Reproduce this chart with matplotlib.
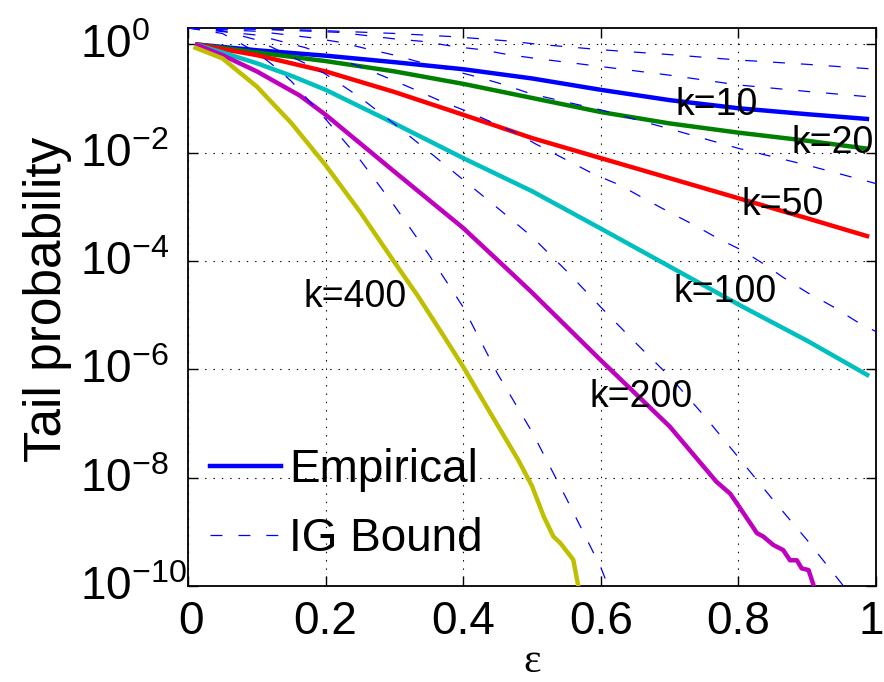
import numpy as np
import matplotlib
matplotlib.use("Agg")
import matplotlib.pyplot as plt
import matplotlib.transforms as mtransforms
from matplotlib.lines import Line2D

plt.rcParams['font.family'] = ['Liberation Sans', 'DejaVu Sans']
plt.rcParams['mathtext.fontset'] = 'custom'
plt.rcParams['mathtext.rm'] = 'Liberation Sans'
plt.rcParams['mathtext.it'] = 'Liberation Sans:italic'
plt.rcParams['mathtext.bf'] = 'Liberation Sans:bold'
plt.rcParams['lines.scale_dashes'] = False

# ---------------- data (log10 of tail probability) ----------------
ks = [10, 20, 50, 100, 200, 400]
colors = ['#0000ff', '#008000', '#ff0000', '#00bfbf', '#bf00bf', '#bfbf00']

# empirical curves
emp10_eps = [0.01, 0.1, 0.2, 0.3, 0.4, 0.5, 0.6, 0.7, 0.8, 0.9, 0.99]
emp10_lg = [0, -0.11, -0.21, -0.33, -0.46, -0.63, -0.84, -1.03, -1.18, -1.29, -1.38]
emp20_eps = [0.01, 0.1, 0.2, 0.3, 0.4, 0.5, 0.6, 0.7, 0.8, 0.9, 0.99]
emp20_lg = [0, -0.15, -0.31, -0.5, -0.73, -0.99, -1.25, -1.46, -1.63, -1.78, -1.93]
emp50_eps = [0.01, 0.1, 0.2, 0.3, 0.4, 0.5, 0.6, 0.7, 0.8, 0.9, 0.99]
emp50_lg = [0, -0.2, -0.5, -0.88, -1.3, -1.73, -2.1, -2.47, -2.84, -3.21, -3.55]
emp100_eps = [0.01, 0.05, 0.1, 0.15, 0.2, 0.3, 0.4, 0.5, 0.6, 0.7, 0.8, 0.9, 0.99]
emp100_lg = [0, -0.15, -0.35, -0.58, -0.84, -1.46, -2.1, -2.71, -3.4, -4.1, -4.8, -5.47, -6.12]
emp200_eps = [0.01, 0.05, 0.1, 0.163, 0.2, 0.3, 0.4, 0.47, 0.5, 0.6, 0.7, 0.768, 0.788,
              0.801, 0.827, 0.836, 0.851, 0.865, 0.875, 0.885, 0.892, 0.902, 0.911]
emp200_lg = [0, -0.2, -0.5, -0.95, -1.3, -2.35, -3.39, -4.22, -4.58, -5.83, -7.05, -8.07, -8.29,
             -8.53, -9.02, -9.08, -9.24, -9.33, -9.52, -9.52, -9.67, -9.70, -10.05]
emp400_eps = [0.008, 0.05, 0.1, 0.15, 0.2, 0.25, 0.3, 0.335, 0.369, 0.4, 0.437, 0.48, 0.5,
              0.517, 0.531, 0.541, 0.56, 0.567, 0.572]
emp400_lg = [-0.05, -0.26, -0.78, -1.45, -2.23, -3.09, -4.02, -4.66, -5.33, -5.95, -6.75, -7.67,
             -8.15, -8.71, -9.08, -9.2, -9.51, -9.98, -10.2]

# IG bounds
ig10_eps = [0, 0.1, 0.18, 0.3, 0.344, 0.386, 0.427, 0.467, 0.505, 0.6, 0.7, 0.8, 0.9, 1.0]
ig10_lg = [0.3, 0.28, 0.26, 0.2, 0.17, 0.14, 0.1, 0.06, 0.005, -0.1, -0.19, -0.29, -0.37, -0.46]
ig20_eps = [0, 0.1, 0.22, 0.3, 0.344, 0.386, 0.427, 0.465, 0.505, 0.6, 0.7, 0.8, 0.9, 1.0]
ig20_lg = [0.3, 0.28, 0.22, 0.1, 0.05, -0.04, -0.1, -0.19, -0.26, -0.41, -0.57, -0.75, -0.87, -0.98]
ig50_eps = [0, 0.1, 0.18, 0.22, 0.262, 0.3, 0.334, 0.42, 0.458, 0.5, 0.6, 0.7, 0.8, 0.9, 1.0]
ig50_lg = [0.3, 0.24, 0.12, 0.04, -0.09, -0.2, -0.32, -0.6, -0.74, -0.92, -1.21, -1.56, -1.92, -2.23, -2.57]
ig100_eps = [0, 0.1, 0.17, 0.25, 0.29, 0.325, 0.368, 0.406, 0.442, 0.481, 0.504, 0.589, 0.628,
             0.662, 0.697, 0.735, 0.77, 0.805, 0.839, 0.865, 0.9, 0.936, 0.975, 1.0]
ig100_lg = [0.3, 0.17, -0.06, -0.41, -0.62, -0.81, -1.05, -1.24, -1.44, -1.66, -1.83, -2.39, -2.6,
            -2.84, -3.08, -3.33, -3.58, -3.8, -4.07, -4.3, -4.58, -4.83, -5.14, -5.3]
ig200_eps = [0, 0.05, 0.1, 0.17, 0.2, 0.25, 0.3, 0.35, 0.4, 0.45, 0.5, 0.55, 0.6, 0.65, 0.7,
             0.75, 0.8, 0.85, 0.9, 0.95, 0.97]
ig200_lg = [0.3, 0.25, 0.08, -0.35, -0.55, -0.98, -1.47, -1.98, -2.5, -3.02, -3.55, -4.18, -4.85,
            -5.5, -6.13, -6.85, -7.62, -8.4, -9.15, -9.95, -10.3]
ig400_eps = [0, 0.05, 0.1, 0.127, 0.15, 0.2, 0.25, 0.3, 0.35, 0.4, 0.45, 0.5, 0.55, 0.6, 0.62]
ig400_lg = [0.3, 0.2, -0.15, -0.42, -0.68, -1.38, -2.13, -2.98, -3.88, -4.85, -6.08, -7.15, -8.38,
            -9.65, -10.3]

emp_eps = [emp10_eps, emp20_eps, emp50_eps, emp100_eps, emp200_eps, emp400_eps]
emp_lg = [emp10_lg, emp20_lg, emp50_lg, emp100_lg, emp200_lg, emp400_lg]
ig_eps = [ig10_eps, ig20_eps, ig50_eps, ig100_eps, ig200_eps, ig400_eps]
ig_lg = [ig10_lg, ig20_lg, ig50_lg, ig100_lg, ig200_lg, ig400_lg]

# curve labels: (eps, log10 p) of text baseline centre
label_texts = ['k=10', 'k=20', 'k=50', 'k=100', 'k=200', 'k=400']
label_eps = [0.768, 0.937, 0.865, 0.78, 0.658, 0.243]
label_lg = [-1.30, -2.0, -3.15, -4.76, -6.69, -4.85]

xticks = [0, 0.2, 0.4, 0.6, 0.8, 1]
xticklabels = ['0', '0.2', '0.4', '0.6', '0.8', '1']
yexp = [0, -2, -4, -6, -8, -10]

# ---------------- figure ----------------
W, H = 884, 682
fig = plt.figure(figsize=(W / 100, H / 100), dpi=100)
L, R, T, B = 188, 876, 28.3, 586.3
ax = fig.add_axes([L / W, 1 - B / H, (R - L) / W, (B - T) / H])

for e, lg, c in zip(emp_eps, emp_lg, colors):
    ax.plot(e, 10.0 ** np.array(lg), color=c, lw=3.2, solid_capstyle='butt', zorder=3)
for e, lg in zip(ig_eps, ig_lg):
    ax.plot(e, 10.0 ** np.array(lg), color='#0000ff', lw=0.9,
            linestyle=(0, (8.6, 11.5)), zorder=4)

for t, x, y in zip(label_texts, label_eps, label_lg):
    ax.text(x, 10.0 ** y, t, fontsize=27, ha='center', va='baseline', zorder=5)

ax.set_yscale('log')
ax.set_xlim(0, 1)
ax.set_ylim(1e-10, 10 ** 0.295)
ax.set_xticks(xticks)
ax.set_xticklabels(xticklabels)
ax.set_yticks([10.0 ** p for p in yexp])
ax.set_yticklabels([r'$10^{%d}$' % p for p in yexp])
ax.yaxis.set_minor_locator(matplotlib.ticker.NullLocator())
ax.tick_params(direction='in', top=True, right=True, length=7, width=1.0,
               labelsize=33)
ax.tick_params(axis='x', pad=10)
ax.tick_params(axis='y', pad=78)
up = mtransforms.ScaledTranslation(0, 3 / 100, fig.dpi_scale_trans)
for lab in ax.get_yticklabels():
    lab.set_horizontalalignment('left')
    lab.set_transform(lab.get_transform() + up)
xlabs = ax.get_xticklabels()
xlabs[-1].set_transform(xlabs[-1].get_transform() +
                        mtransforms.ScaledTranslation(-5 / 100, 0, fig.dpi_scale_trans))
xlabs[0].set_transform(xlabs[0].get_transform() +
                       mtransforms.ScaledTranslation(3 / 100, 0, fig.dpi_scale_trans))
ax.grid(True, which='major', color='k', linestyle=(0, (1, 5)), linewidth=0.8)
for s in ax.spines.values():
    s.set_linewidth(1.3)

ax.set_ylabel('Tail probability', fontsize=37)
ax.yaxis.set_label_coords(-0.168, 0.515)
ax.set_xlabel('ε', fontsize=30, family=['Liberation Serif', 'DejaVu Serif'])
ax.xaxis.set_label_coords(0.5, -0.1)

handles = [Line2D([], [], color='#0000ff', lw=3.2),
           Line2D([], [], color='#0000ff', lw=0.9, linestyle=(0, (8.6, 11.5)))]
ax.legend(handles, ['Empirical', 'IG Bound'], loc='lower left',
          bbox_to_anchor=(0.032, 0.045), frameon=False, fontsize=33,
          handlelength=1.55, handletextpad=0.18, labelspacing=0.55,
          borderpad=0, borderaxespad=0)

fig.savefig('out.png', dpi=100)
